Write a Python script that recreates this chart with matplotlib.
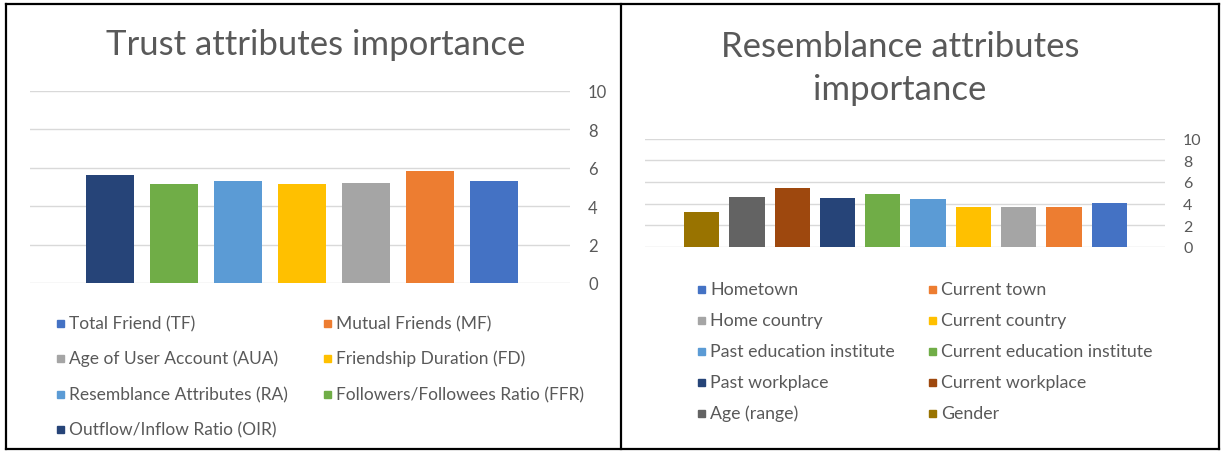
#Trust / resemblance attribute importance bar charts

import numpy as np
import matplotlib
matplotlib.use('Agg')
import matplotlib.pyplot as plt
from matplotlib.patches import Rectangle
from matplotlib.lines import Line2D

plt.rcParams['font.family'] = ['Lato', 'DejaVu Sans']

# trust attributes (legend order)
trust_labels = ['Total Friend (TF)', 'Mutual Friends (MF)', 'Age of User Account (AUA)',
                'Friendship Duration (FD)', 'Resemblance Attributes (RA)',
                'Followers/Followees Ratio (FFR)', 'Outflow/Inflow Ratio (OIR)']
trust_values = [5.3, 5.85, 5.2, 5.15, 5.3, 5.15, 5.65]
trust_colors = ['#4472C4', '#ED7D31', '#A5A5A5', '#FFC000', '#5B9BD5', '#70AD47', '#264478']

# resemblance attributes (legend order)
res_labels = ['Hometown', 'Current town', 'Home country', 'Current country',
              'Past education institute', 'Current education institute',
              'Past workplace', 'Current workplace', 'Age (range)', 'Gender']
res_values = [4.1, 3.7, 3.7, 3.7, 4.4, 4.85, 4.55, 5.4, 4.65, 3.2]
res_colors = ['#4472C4', '#ED7D31', '#A5A5A5', '#FFC000', '#5B9BD5', '#70AD47',
              '#264478', '#9E480E', '#636363', '#997300']

yticks = [0, 2, 4, 6, 8, 10]
text_col = '#595959'
grid_col = '#D9D9D9'

W, H = 1229, 452
fig = plt.figure(figsize=(W / 100, H / 100), dpi=100)

def fx(px):
    return px / W

def fy(py):
    return 1 - py / H

def add_chart(box, values, colors, bar_w, xlim, tick_size):
    x0, y_top, x1, y_bot = box
    ax = fig.add_axes([fx(x0), fy(y_bot), (x1 - x0) / W, (y_bot - y_top) / H])
    # bars run right-to-left relative to the legend order
    vals = values[::-1]
    cols = colors[::-1]
    ax.bar(np.arange(len(vals)), vals, width=bar_w, color=cols, zorder=3)
    ax.set_ylim(0, 10)
    ax.set_xlim(*xlim)
    ax.set_yticks(yticks)
    ax.yaxis.tick_right()
    ax.tick_params(axis='y', length=0, pad=13, labelsize=tick_size, labelcolor=text_col)
    ax.set_xticks([])
    ax.grid(axis='y', color=grid_col, linewidth=1.0, zorder=0)
    for s in ax.spines.values():
        s.set_visible(False)
    ax.patch.set_alpha(0)
    return ax

def add_legend(labels, colors, col_x, row_y, fsize, box=7):
    for i, (lab, c) in enumerate(zip(labels, colors)):
        mx = col_x[i % 2]
        my = row_y[i // 2]
        fig.add_artist(Rectangle((fx(mx), fy(my + box / 2)), box / W, box / H,
                                 transform=fig.transFigure, color=c))
        fig.text(fx(mx + box + 5), fy(my), lab, fontsize=fsize, color=text_col,
                 ha='left', va='center')

# left chart
add_chart((30, 92, 570, 284), trust_values, trust_colors, 0.75, (-1.25, 7.19), 12)
fig.text(fx(316), fy(55), 'Trust attributes importance', fontsize=25, color=text_col,
         ha='center', va='baseline')
add_legend(trust_labels, trust_colors, [57, 324], [324, 359, 395, 430], 12.5)

# right chart
add_chart((645, 139.5, 1165, 248), res_values, res_colors, 0.78, (-1.25, 10.23), 11.5)
fig.text(fx(900), fy(57), 'Resemblance attributes', fontsize=25, color=text_col,
         ha='center', va='baseline')
fig.text(fx(900), fy(100), 'importance', fontsize=25, color=text_col,
         ha='center', va='baseline')
add_legend(res_labels, res_colors, [698, 929], [290, 321, 352, 383, 414], 12.8)

# frame around both panels
frame = [((6, 1219), (5, 5)), ((6, 1219), (450, 450)), ((6, 6), (5, 450)),
         ((1219, 1219), (5, 450)), ((621, 621), (5, 450))]
for xs, ys in frame:
    fig.add_artist(Line2D([fx(xs[0]), fx(xs[1])], [fy(ys[0]), fy(ys[1])],
                          transform=fig.transFigure, color='black', linewidth=1.6))

fig.savefig('out.png', dpi=100)
